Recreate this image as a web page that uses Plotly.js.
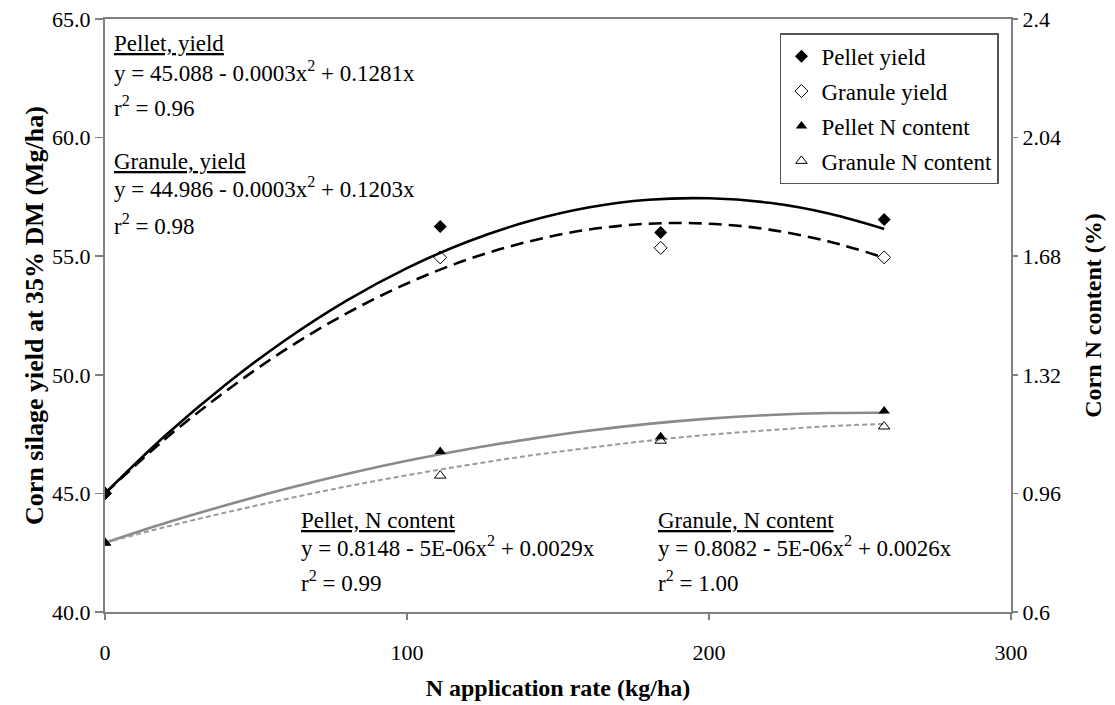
<!DOCTYPE html>
<html>
<head>
<meta charset="utf-8">
<script src="https://cdn.plot.ly/plotly-3.0.1.min.js"></script>
<style>html,body{margin:0;padding:0;background:#fff;}#chart{width:1115px;height:705px;}</style>
</head>
<body>
<div id="chart"></div>
<script>
// Observed data points
const rates = [0, 111, 184, 258];
const pelletYield = [45.0, 56.25, 56.0, 56.55];
const granuleYield = [45.0, 54.95, 55.35, 54.95];
const pelletN = [0.81, 1.087, 1.132, 1.21];
const granuleN = [0.81, 1.014, 1.12, 1.163];

// Trend curves
const curveX = [0, 20, 40, 60, 80, 100, 120, 140, 160, 180, 200, 220, 240, 258];
const pelletYieldCurve = [45.0, 47.44, 49.59, 51.49, 53.13, 54.50, 55.61, 56.46, 57.05, 57.38, 57.44, 57.25, 56.79, 56.15];
const granuleYieldCurve = [45.0, 47.30, 49.31, 51.08, 52.59, 53.85, 54.86, 55.61, 56.12, 56.37, 56.37, 56.12, 55.61, 54.94];
const pelletNCurve = [0.81, 0.870, 0.924, 0.974, 1.019, 1.059, 1.094, 1.124, 1.150, 1.171, 1.187, 1.198, 1.204, 1.205];
const granuleNCurve = [0.81, 0.858, 0.902, 0.943, 0.981, 1.015, 1.046, 1.074, 1.098, 1.120, 1.138, 1.152, 1.164, 1.171];

const seriesNames = ['Pellet yield', 'Granule yield', 'Pellet N content', 'Granule N content'];
const rightTicks = [0.6, 0.96, 1.32, 1.68, 2.04, 2.4];
const rightTickText = ['0.6', '0.96', '1.32', '1.68', '2.04', '2.4'];

const annoTexts = [
  '<u>Pellet, yield</u>',
  'y = 45.088 - 0.0003x<sup>2</sup> + 0.1281x',
  'r<sup>2</sup> = 0.96',
  '<u>Granule, yield</u>',
  'y = 44.986 - 0.0003x<sup>2</sup> + 0.1203x',
  'r<sup>2</sup> = 0.98',
  '<u>Pellet, N content</u>',
  'y = 0.8148 - 5E-06x<sup>2</sup> + 0.0029x',
  'r<sup>2</sup> = 0.99',
  '<u>Granule, N content</u>',
  'y = 0.8082 - 5E-06x<sup>2</sup> + 0.0026x',
  'r<sup>2</sup> = 1.00'
];
const annoPos = [
  [0.008, 0.958], [0.008, 0.912], [0.008, 0.853],
  [0.008, 0.759], [0.008, 0.716], [0.008, 0.654],
  [0.214, 0.155], [0.214, 0.110], [0.214, 0.051],
  [0.608, 0.155], [0.608, 0.110], [0.608, 0.051]
];

const FONT = "'Liberation Serif'";

const traces = [
  {x: curveX, y: pelletYieldCurve, mode: 'lines', line: {color: '#000', width: 2.6, shape: 'spline'}, showlegend: false, hoverinfo: 'skip'},
  {x: curveX, y: granuleYieldCurve, mode: 'lines', line: {color: '#000', width: 2.6, dash: '13px,7px', shape: 'spline'}, showlegend: false, hoverinfo: 'skip'},
  {x: curveX, y: pelletNCurve, yaxis: 'y2', mode: 'lines', line: {color: '#8a8a8a', width: 2.6, shape: 'spline'}, showlegend: false, hoverinfo: 'skip'},
  {x: curveX, y: granuleNCurve, yaxis: 'y2', mode: 'lines', line: {color: '#9a9a9a', width: 2, dash: '5px,3px', shape: 'spline'}, showlegend: false, hoverinfo: 'skip'},
  {x: rates, y: pelletYield, name: seriesNames[0], legendgroup: 'a', mode: 'markers', marker: {symbol: 'diamond', size: 10, color: '#000'}},
  {x: rates, y: granuleYield, name: seriesNames[1], legendgroup: 'b', mode: 'markers', marker: {symbol: 'diamond-open', size: 10, color: '#000', line: {width: 1}}},
  {x: rates, y: pelletN, yaxis: 'y2', name: seriesNames[2], legendgroup: 'c', mode: 'markers', marker: {symbol: 'triangle-up', size: 10, color: '#000'}},
  {x: rates, y: granuleN, yaxis: 'y2', name: seriesNames[3], legendgroup: 'd', mode: 'markers', marker: {symbol: 'triangle-up-open', size: 10, color: '#000', line: {width: 1}}}
];

const annotations = annoTexts.map((t, i) => ({
  text: t, xref: 'paper', yref: 'paper', x: annoPos[i][0], y: annoPos[i][1],
  xanchor: 'left', yanchor: 'middle', showarrow: false,
  font: {family: FONT, size: 23, color: '#000'}
}));

const layout = {
  width: 1115, height: 705,
  margin: {l: 105, r: 104, t: 19, b: 93},
  paper_bgcolor: '#fff', plot_bgcolor: '#fff',
  font: {family: FONT, color: '#000'},
  showlegend: true,
  legend: {
    x: 0.745, y: 0.976, xanchor: 'left', yanchor: 'top',
    bgcolor: '#fff', bordercolor: '#555', borderwidth: 1.5,
    font: {family: FONT, size: 23, color: '#000'},
    traceorder: 'grouped', tracegroupgap: 2, itemwidth: 30
  },
  xaxis: {
    range: [0, 300], dtick: 100, tick0: 0,
    showgrid: false, zeroline: false,
    showline: true, linecolor: '#808080', linewidth: 2, mirror: true,
    ticks: 'outside', ticklen: 6, tickcolor: '#808080', tickwidth: 1.5,
    ticklabelstandoff: 14,
    tickfont: {family: FONT, size: 22, color: '#000'},
    title: {text: '<b>N application rate (kg/ha)</b>', font: {family: FONT, size: 24, color: '#000'}, standoff: 15}
  },
  yaxis: {
    range: [40, 65], dtick: 5, tick0: 40, tickformat: '.1f',
    showgrid: false, zeroline: false,
    showline: true, linecolor: '#808080', linewidth: 2,
    ticks: 'outside', ticklen: 8, tickcolor: '#808080', tickwidth: 1.5,
    tickfont: {family: FONT, size: 22, color: '#000'},
    title: {text: '<b>Corn silage yield at 35% DM (Mg/ha)</b>', font: {family: FONT, size: 26, color: '#000'}, standoff: 1}
  },
  yaxis2: {
    overlaying: 'y', side: 'right', range: [0.6, 2.4],
    tickmode: 'array', tickvals: rightTicks, ticktext: rightTickText,
    showgrid: false, zeroline: false,
    showline: true, linecolor: '#808080', linewidth: 2,
    ticks: 'outside', ticklen: 5, tickcolor: '#808080', tickwidth: 1.5,
    tickfont: {family: FONT, size: 22, color: '#000'},
    title: {text: '<b>Corn N content (%)</b>', font: {family: FONT, size: 24, color: '#000'}, standoff: 24}
  },
  annotations: annotations
};

Plotly.newPlot('chart', traces, layout, {staticPlot: true, displayModeBar: false});
</script>
</body>
</html>
